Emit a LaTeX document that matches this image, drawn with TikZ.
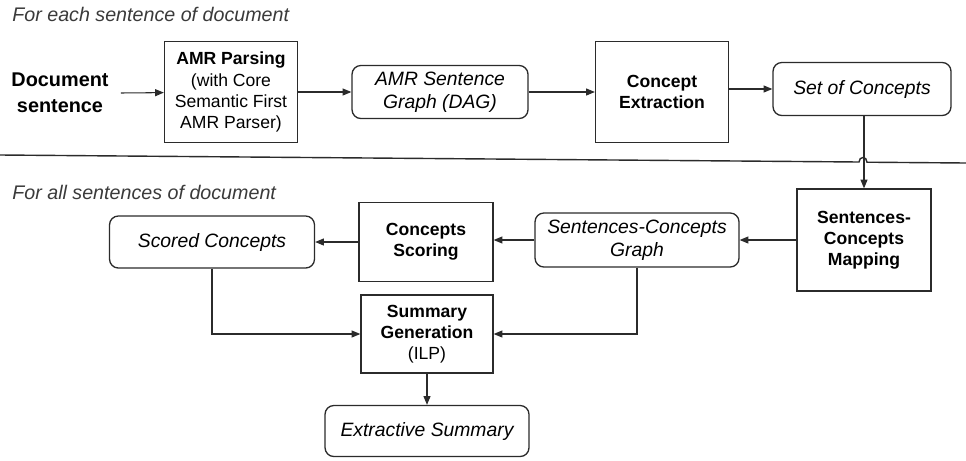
\documentclass[tikz,border=0pt]{standalone}
\usepackage{fontspec}
\setmainfont{Liberation Sans}
\usetikzlibrary{arrows.meta,positioning}
\definecolor{ink}{HTML}{2B2B2B}
\definecolor{note}{HTML}{3A3A3A}
\tikzset{
  procbox/.style={rectangle,draw=ink,line width=0.75pt,fill=white,align=center,inner sep=3pt,font=\fontsize{10}{12}\selectfont},
  databox/.style={rectangle,rounded corners=5pt,draw=ink,line width=0.75pt,fill=white,align=center,inner sep=3pt,font=\fontsize{11}{13}\selectfont\itshape},
  arrow/.style={-{Triangle[length=5pt,width=4pt]},line width=0.6pt,ink},
  sectnote/.style={anchor=west,inner sep=0pt,font=\fontsize{11.2}{13}\selectfont\itshape,text=note}
}

\begin{document}
\begin{tikzpicture}[x=0.02cm,y=-0.02cm]
        \useasboundingbox (0,0) rectangle (966,460);
        % section notes
        \node[sectnote] (eachnote) at (12,14) {For each sentence of document};
        \node[sectnote] (allnote) at (12,192) {For all sentences of document};
        % per sentence row
        \node[align=center,inner sep=0pt,font=\fontsize{11.3}{14.7}\selectfont\bfseries] (doc) at (60,93) {Document\\sentence};
        \node[procbox,minimum width=2.66cm,minimum height=2.02cm] (parse) at (231,92) {\textbf{AMR Parsing}\\(with Core\\Semantic First\\AMR Parser)};
        \node[databox,minimum width=3.52cm,minimum height=1.06cm] (amr) at (440,92) {AMR Sentence\\Graph (DAG)};
        \node[procbox,minimum width=2.66cm,minimum height=2.02cm,font=\fontsize{10}{12}\selectfont\bfseries] (extract) at (662,92) {Concept\\Extraction};
        \node[databox,minimum width=3.56cm,minimum height=1.06cm] (concepts) at (862,89) {Set of Concepts};
        % document level
        \node[procbox,minimum width=2.68cm,minimum height=2.04cm,font=\fontsize{10}{12}\selectfont\bfseries] (mapping) at (864,240) {Sentences-\\Concepts\\Mapping};
        \node[databox,minimum width=4.08cm,minimum height=1.08cm] (scgraph) at (637,240) {Sentences-Concepts\\Graph};
        \node[procbox,minimum width=2.68cm,minimum height=1.58cm,font=\fontsize{10}{12}\selectfont\bfseries] (scoring) at (426,242) {Concepts\\Scoring};
        \node[databox,minimum width=4.1cm,minimum height=1.04cm] (scored) at (212,242) {Scored Concepts};
        \node[procbox,minimum width=2.64cm,minimum height=1.56cm] (summgen) at (427,334) {\textbf{Summary}\\\textbf{Generation}\\(ILP)};
        \node[databox,minimum width=4.08cm,minimum height=1.02cm] (summary) at (427,431) {Extractive Summary};
        % separator with hop
        \draw[line width=0.8pt,ink] (0,155) -- (859,162) .. controls (859,156) and (867,156) .. (867,162.2) -- (966,163);
        % connectors
        \draw[arrow] (doc.east) ++(12,0) coordinate (docout) (docout) -- (parse);
        \draw[arrow] (parse) -- (amr);
        \draw[arrow] (amr) -- (extract);
        \draw[arrow] (extract.east |- concepts) -- (concepts);
        \draw[arrow] (concepts.south -| mapping.north) -- (mapping.north);
        \draw[arrow] (mapping) -- (scgraph);
        \draw[arrow] (scgraph.west) -- (scgraph.west -| scoring.east);
        \draw[arrow] (scoring.west |- scored) -- (scored);
        \draw[arrow] (scored.south) |- (summgen.west);
        \draw[arrow] (scgraph.south) |- (summgen.east);
        \draw[arrow] (summgen) -- (summary);
      \end{tikzpicture}
\end{document}
